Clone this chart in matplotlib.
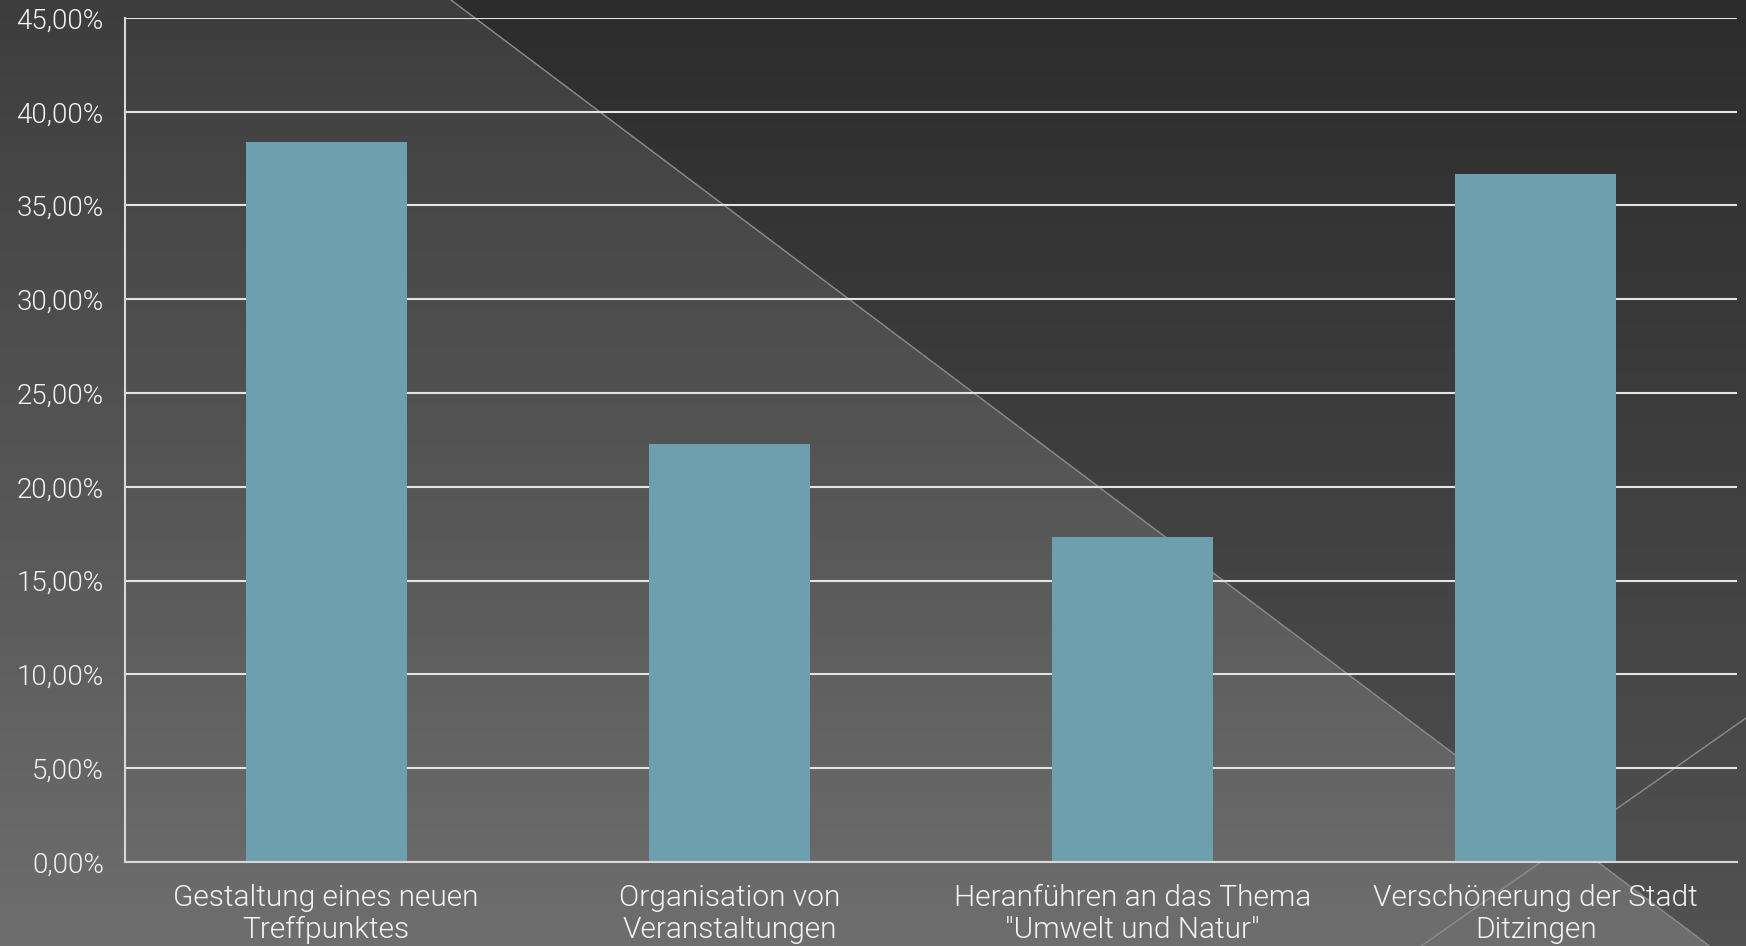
import numpy as np
import matplotlib
matplotlib.use("Agg")
import matplotlib.pyplot as plt
from matplotlib.ticker import FuncFormatter, MultipleLocator

categories = ["Gestaltung eines neuen\nTreffpunktes",
              "Organisation von\nVeranstaltungen",
              "Heranführen an das Thema\n\"Umwelt und Natur\"",
              "Verschönerung der Stadt\nDitzingen"]
values = [0.384, 0.223, 0.173, 0.367]

W, H = 1746, 946
fig = plt.figure(figsize=(W / 100, H / 100), dpi=100)

# ---- background: vertical gradient + darker upper-right triangle ----
bg = fig.add_axes([0, 0, 1, 1], zorder=-10)
bg.set_axis_off()
ny, nx = 473, 873
yy, xx = np.mgrid[0:ny, 0:nx]
fy = yy / (ny - 1)          # 0 top -> 1 bottom
fx = xx / (nx - 1)          # 0 left -> 1 right
light = 0x3d + (0x6e - 0x3d) * fy
dark = 0x2c + (0x52 - 0x2c) * fy
xline = 0.2583 + (0.979 - 0.2583) * fy
img = np.where(fx > xline, dark, light)
img = np.clip(img, 0, 255) / 255.0
rgb = np.dstack([img, img, img])
bg.imshow(rgb, extent=[0, 1, 0, 1], aspect="auto", origin="upper",
          interpolation="bilinear")
bg.plot([0.2583, 0.979], [1, 0], color="#8c8c8c", lw=1.0)
bg.plot([1.0, 0.814], [0.241, 0.0], color="#8c8c8c", lw=1.0)
bg.set_xlim(0, 1)
bg.set_ylim(0, 1)

# ---- main chart ----
ax = fig.add_axes([0.0714, 0.089, 0.9236, 0.892])
ax.patch.set_alpha(0)
x = np.arange(len(categories))
ax.bar(x, values, width=0.4, color="#6e9faf", zorder=3)
ax.set_xlim(-0.5, len(categories) - 0.5)
ax.set_ylim(0, 0.45)
ax.yaxis.set_major_locator(MultipleLocator(0.05))
ax.yaxis.set_major_formatter(FuncFormatter(
    lambda v, p: f"{v*100:.2f}%".replace(".", ",")))
ax.grid(axis="y", color="#e4e4e4", lw=1.5, zorder=1)
ax.set_axisbelow(True)
for s in ["top", "right"]:
    ax.spines[s].set_visible(False)
ax.spines["left"].set_color("#d8d8d8")
ax.spines["left"].set_linewidth(1.5)
ax.spines["bottom"].set_color("#d8d8d8")
ax.spines["bottom"].set_linewidth(1.5)
ax.spines["bottom"].set_zorder(4)
ax.set_xticks(x)
ax.set_xticklabels(categories, linespacing=1.16)
font = ["Roboto", "DejaVu Sans"]
ax.tick_params(axis="both", length=0, colors="#f4f4f4")
ax.tick_params(axis="y", pad=15, labelsize=20)
ax.tick_params(axis="x", pad=16, labelsize=21.5)
for lab in ax.get_xticklabels() + ax.get_yticklabels():
    lab.set_family(font)
    lab.set_fontweight(300)
    lab.set_color("#f4f4f4")

fig.savefig("out.png", dpi=100)
